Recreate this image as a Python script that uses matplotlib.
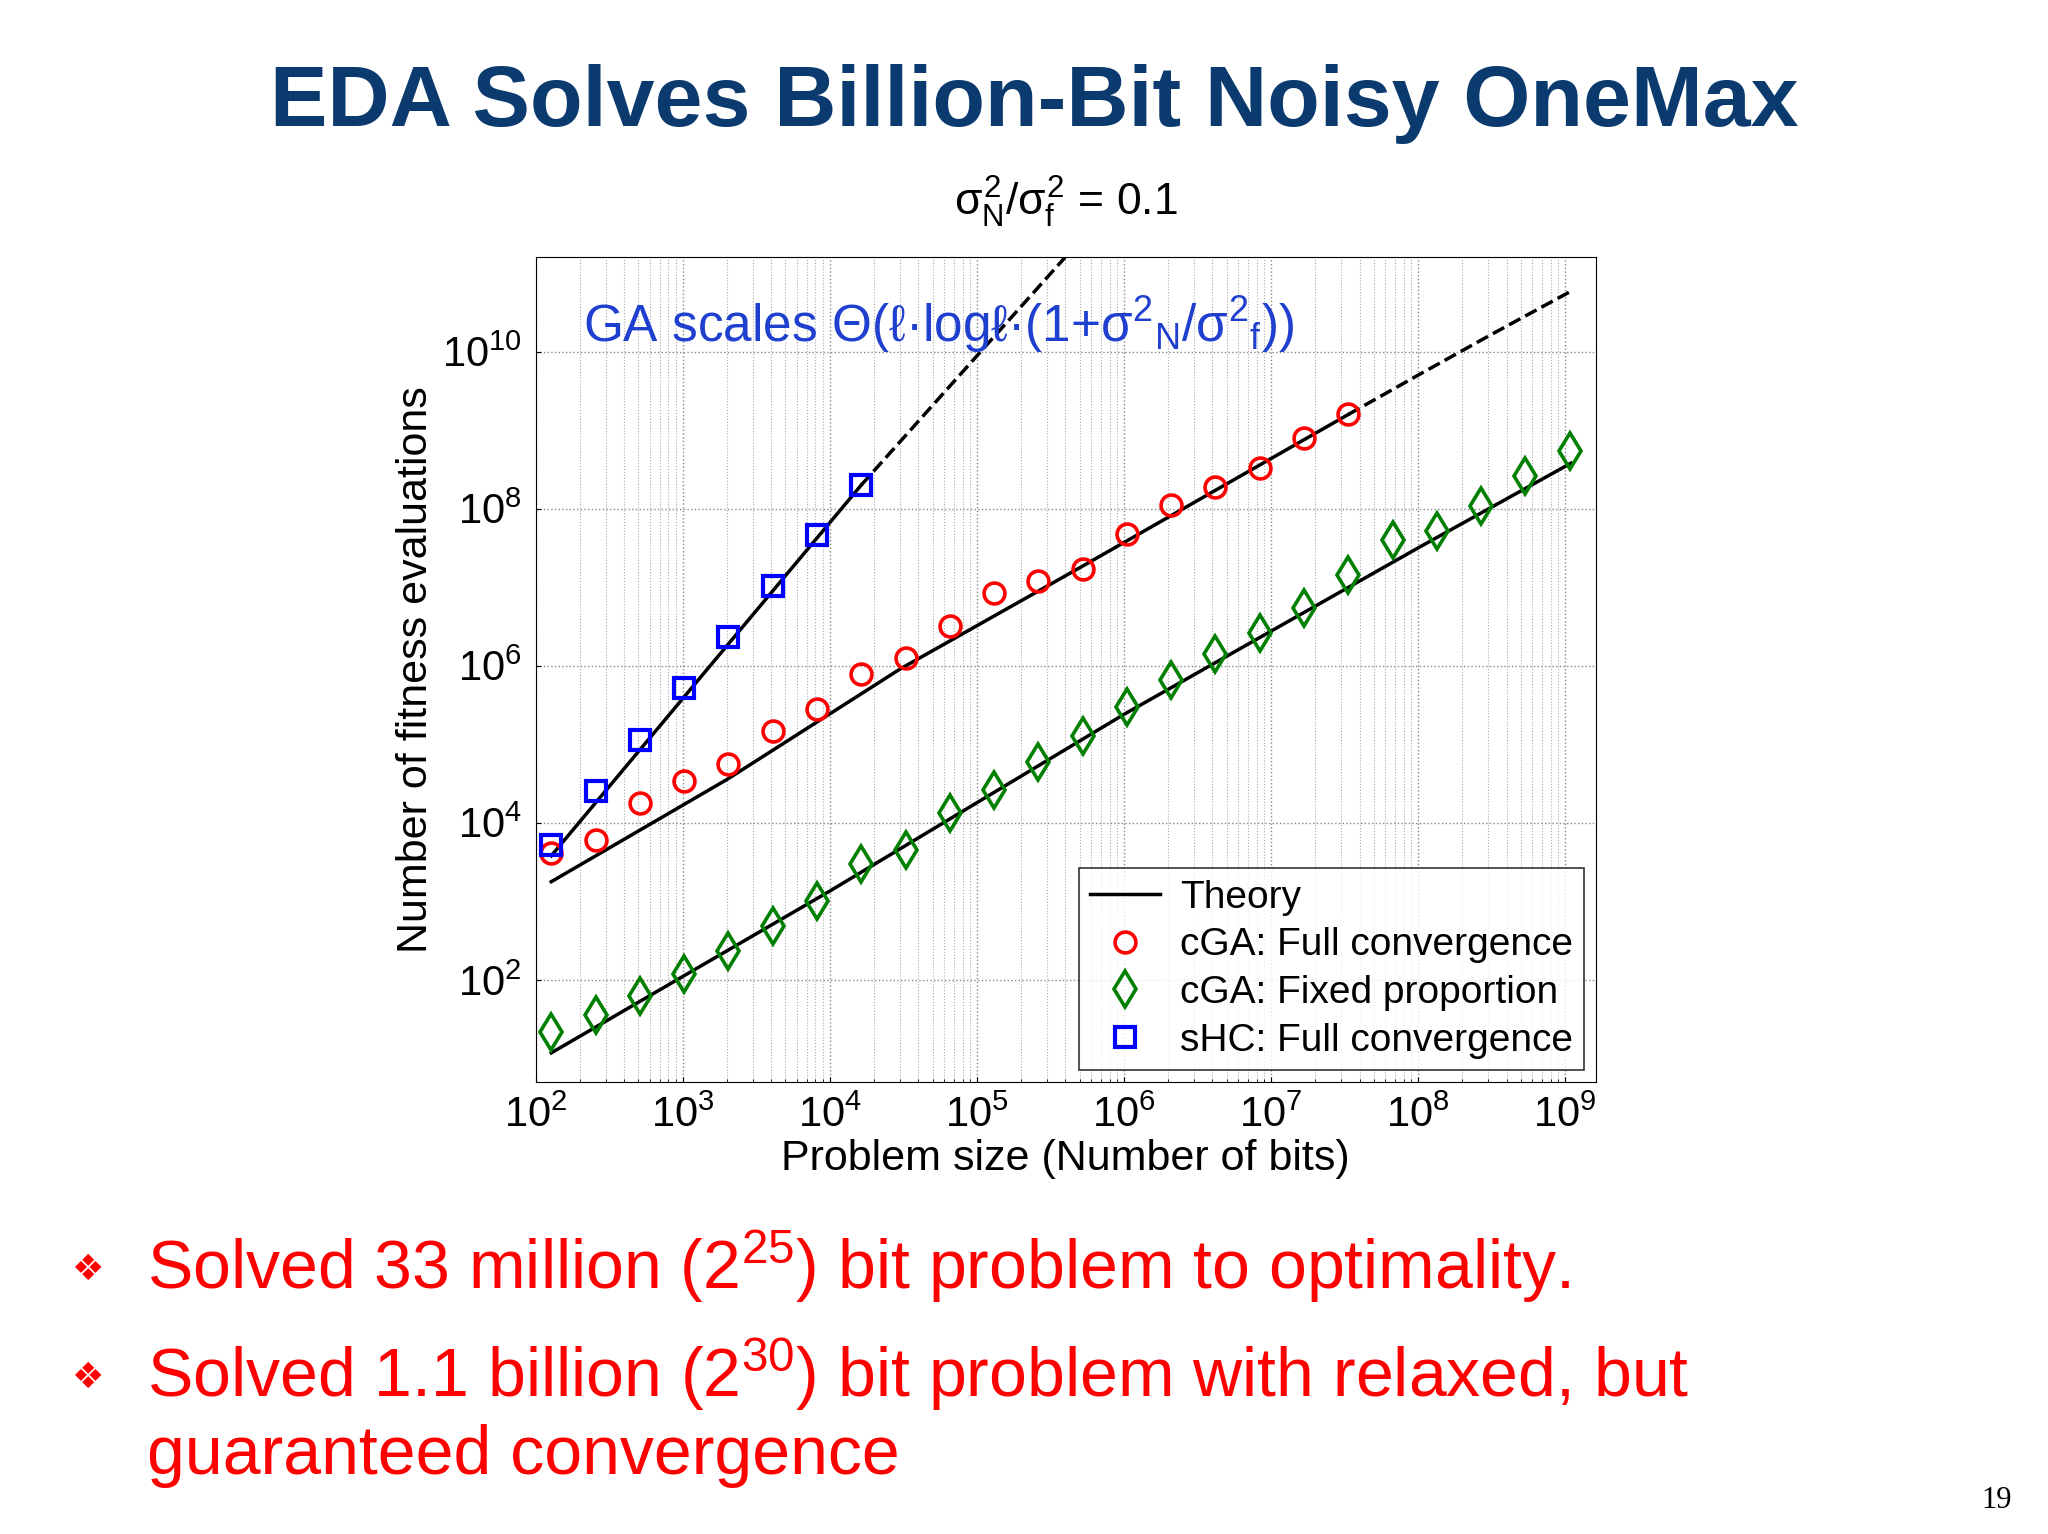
import matplotlib.pyplot as plt
import numpy as np

plt.rcParams["font.family"] = "Liberation Sans"
plt.rcParams["mathtext.fontset"] = "custom"
plt.rcParams["mathtext.rm"] = "Liberation Sans"
plt.rcParams["mathtext.it"] = "Liberation Sans"

# data (log10 of fitness evaluations)
shc_exp = list(range(7, 15))
shc_log = [3.72, 4.40, 5.05, 5.72, 6.37, 7.02, 7.67, 8.30]
cga_full_exp = list(range(7, 26))
cga_full_log = [3.62, 3.78, 4.25, 4.53, 4.75, 5.17, 5.45, 5.90, 6.10, 6.50,
                6.92, 7.08, 7.23, 7.68, 8.05, 8.27, 8.52, 8.90, 9.20]
cga_fix_exp = list(range(7, 31))
cga_fix_log = [1.33, 1.55, 1.80, 2.08, 2.37, 2.68, 3.00, 3.47, 3.65, 4.13,
               4.42, 4.78, 5.10, 5.48, 5.82, 6.15, 6.42, 6.73, 7.15, 7.60,
               7.72, 8.03, 8.42, 8.73]

# theory curves (log10 x, log10 y)
shc_th_x = [2.107, 4.214]
shc_th_y = [3.58, 8.30]
shc_ext_x = [4.214, 5.6]
shc_ext_y = [8.30, 11.2]
cga_th_x = [2.107, 3.3, 4.48, 5.73, 7.526]
cga_th_y = [3.25, 4.55, 5.96, 7.28, 9.2]
cga_ext_x = [7.526, 8.0, 8.5, 9.04]
cga_ext_y = [9.2, 9.7, 10.22, 10.77]
fix_th_x = [2.107, 4.0, 6.0, 8.0, 9.04]
fix_th_y = [1.07, 3.13, 5.38, 7.5, 8.58]

fig = plt.figure(figsize=(20.48, 15.34), dpi=100)
fig.patch.set_facecolor("white")
ax = fig.add_axes([0.2615, 0.2947, 0.5178, 0.5375])

ax.plot(10 ** np.array(shc_th_x), 10 ** np.array(shc_th_y), "k-", lw=2.5, label="Theory")
ax.plot(10 ** np.array(shc_ext_x), 10 ** np.array(shc_ext_y), "k--", lw=2.5)
ax.plot(10 ** np.array(cga_th_x), 10 ** np.array(cga_th_y), "k-", lw=2.5)
ax.plot(10 ** np.array(cga_ext_x), 10 ** np.array(cga_ext_y), "k--", lw=2.5)
ax.plot(10 ** np.array(fix_th_x), 10 ** np.array(fix_th_y), "k-", lw=2.5)

ax.plot(2.0 ** np.array(cga_full_exp), 10 ** np.array(cga_full_log), "o", ms=15, mfc="none",
        mec="red", mew=2.6, ls="none", label="cGA: Full convergence")
ax.plot(2.0 ** np.array(cga_fix_exp), 10 ** np.array(cga_fix_log), "d", ms=18, mfc="none",
        mec="green", mew=2.6, ls="none", label="cGA: Fixed proportion")
ax.plot(2.0 ** np.array(shc_exp), 10 ** np.array(shc_log), "s", ms=14, mfc="none",
        mec="blue", mew=3, ls="none", label="sHC: Full convergence")

ax.set_xscale("log")
ax.set_yscale("log")
ax.set_xlim(10 ** 2, 10 ** 9.21)
ax.set_ylim(10 ** 0.7, 10 ** 11.2)
ax.set_xticks([10 ** k for k in range(2, 10)])
ax.set_yticks([10 ** k for k in range(2, 11, 2)])
ax.grid(True, which="major", ls=":", color="#888888", lw=1)
ax.grid(True, which="minor", axis="x", ls=":", color="#aaaaaa", lw=0.8)
ax.tick_params(labelsize=30, direction="in", which="both", pad=10)
ax.set_xlabel("Problem size (Number of bits)", fontsize=31, labelpad=2)
ax.set_ylabel("Number of fitness evaluations", fontsize=31)
ax.set_title(r"$\sigma^2_N/\sigma^2_f$ = 0.1", fontsize=32, pad=30)
ax.text(0.045, 0.955, r"GA scales Θ(ℓ·logℓ·(1+σ$^2$$_N$/σ$^2$$_f$))",
        transform=ax.transAxes, fontsize=37, color="#1f3fcf", va="top")
leg = ax.legend(loc="lower right", fontsize=28, frameon=True, fancybox=False,
                edgecolor="black", handlelength=1.8, borderpad=0.3, labelspacing=0.3,
                handletextpad=0.5, borderaxespad=0.3)
leg.get_frame().set_linewidth(1.2)

fig.text(0.505, 0.932, "EDA Solves Billion-Bit Noisy OneMax", ha="center", va="center",
         fontsize=62, fontweight="bold", color="#0b3a6e")
fig.text(0.035, 0.172, "\u2756", fontsize=26, color="red", va="center", family="DejaVu Sans")
fig.text(0.072, 0.174, r"Solved 33 million (2$^{25}$) bit problem to optimality.",
         fontsize=49, color="red", va="center")
fig.text(0.035, 0.102, "\u2756", fontsize=26, color="red", va="center", family="DejaVu Sans")
fig.text(0.072, 0.104, r"Solved 1.1 billion (2$^{30}$) bit problem with relaxed, but",
         fontsize=49, color="red", va="center")
fig.text(0.072, 0.051, "guaranteed convergence", fontsize=49, color="red", va="center")
fig.text(0.975, 0.022, "19", fontsize=22, family="Liberation Serif", ha="center", va="center")

fig.savefig("out.png", dpi=100)
